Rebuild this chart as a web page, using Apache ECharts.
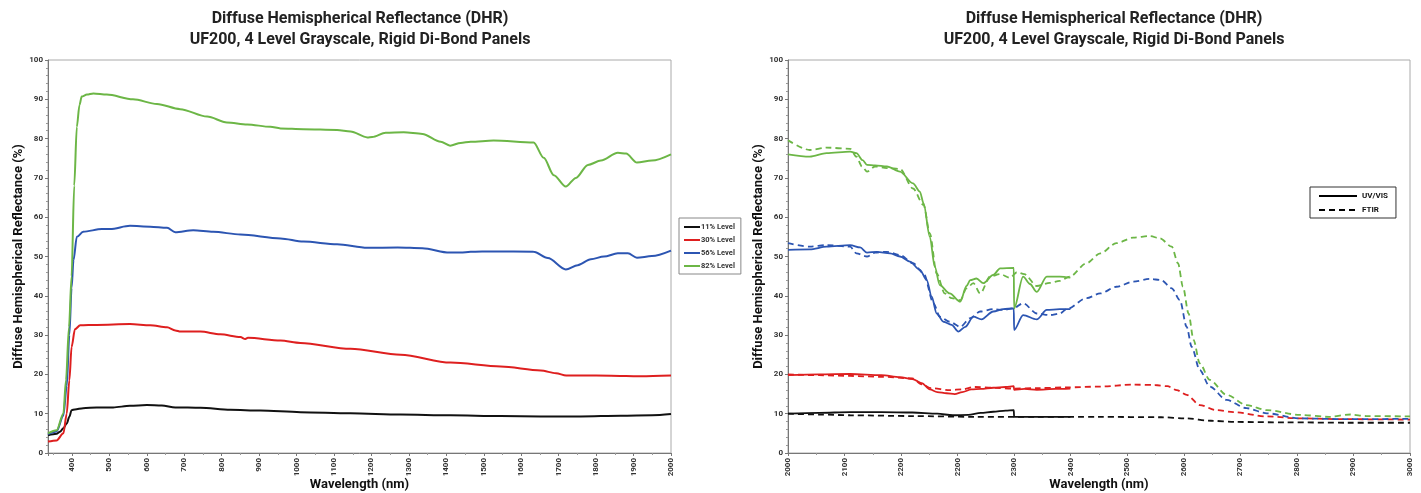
<!DOCTYPE html>
<html><head><meta charset="utf-8">
<script src="https://cdn.jsdelivr.net/npm/echarts@6/dist/echarts.min.js"></script>
<style>html,body{margin:0;padding:0;background:#fff}#c{width:1421px;height:493px}</style>
</head><body><div id="c"></div>
<script>
// ---------- texts ----------
const TITLE_LINES = ['Diffuse Hemispherical Reflectance (DHR)', 'UF200, 4 Level Grayscale, Rigid Di-Bond Panels'];
const Y_NAME = 'Diffuse Hemispherical Reflectance (%)';
const X_NAME = 'Wavelength (nm)';
const LEFT_NAMES = ['11% Level', '30% Level', '56% Level', '82% Level'];
const RIGHT_LEGEND = ['UV/VIS', 'FTIR'];
const RIGHT_X_TICKS = ['2000','2100','2200','2200','2300','2400','2500','2600','2700','2800','2900','3000'];

// ---------- left chart data: [wavelength nm, reflectance %] ----------
const lvl11 = [[336,4.5],[359,4.9],[368,5.4],[377,6.3],[386,7.5],[393,9.2],[399,10.9],[408,11.1],[430,11.4],[466,11.6],[510,11.6],[555,12.0],[600,12.2],[640,12.1],[676,11.6],[743,11.5],[823,11.0],[903,10.8],[1010,10.4],[1144,10.1],[1278,9.8],[1411,9.6],[1545,9.4],[1652,9.3],[1759,9.3],[1866,9.5],[1950,9.6],[2000,9.9]];
const lvl30 = [[336,2.9],[359,3.2],[377,5.0],[386,10.0],[393,18.5],[399,27.0],[408,31.5],[422,32.5],[466,32.6],[555,32.8],[609,32.5],[654,32.0],[676,31.2],[690,30.9],[743,30.9],[796,30.2],[850,29.5],[863,29.0],[870,29.3],[957,28.6],[1010,28.0],[1144,26.5],[1278,25.0],[1411,23.0],[1545,22.0],[1652,21.0],[1693,20.3],[1720,19.7],[1800,19.7],[1880,19.6],[1920,19.5],[2000,19.7]];
const lvl56 = [[336,4.8],[359,5.5],[377,9.5],[386,17.0],[393,30.0],[399,42.0],[404,49.0],[413,55.0],[430,56.3],[480,57.0],[502,57.0],[555,57.8],[609,57.6],[654,57.3],[676,56.2],[724,56.7],[777,56.3],[850,55.6],[957,54.6],[1018,53.8],[1108,53.1],[1189,52.2],[1270,52.3],[1336,52.1],[1408,51.0],[1438,51.0],[1465,51.2],[1526,51.3],[1633,51.2],[1671,49.6],[1719,46.7],[1751,47.8],[1786,49.3],[1821,50.0],[1858,50.8],[1885,50.8],[1909,49.7],[1949,50.1],[2000,51.5]];
const lvl82 = [[336,5.0],[359,5.8],[377,10.0],[384,18.5],[392,32.0],[399,45.0],[406,68.0],[413,83.0],[420,88.5],[426,90.7],[440,91.2],[457,91.5],[493,91.2],[563,90.0],[627,88.8],[689,87.5],[761,85.6],[814,84.1],[868,83.6],[930,83.0],[957,82.6],[1018,82.4],[1108,82.2],[1144,81.8],[1189,80.3],[1202,80.4],[1238,81.5],[1286,81.6],[1336,81.2],[1385,79.2],[1410,78.2],[1438,78.9],[1465,79.2],[1526,79.5],[1633,79.0],[1660,75.1],[1687,70.7],[1719,67.8],[1746,70.0],[1778,73.3],[1813,74.4],[1858,76.4],[1880,76.2],[1909,73.9],[1949,74.4],[2000,76.0]];

// ---------- right chart data: [axis position, reflectance %] ----------
const uv11 = [[2000,10.0],[2050,10.2],[2100,10.4],[2150,10.4],[2200,10.3],[2240,10.0],[2265,9.6],[2290,9.7],[2310,10.2],[2330,10.5],[2350,10.8],[2363,10.9],[2363.5,9.2],[2400,9.2],[2454,9.2]];
const ft11 = [[2000,10.0],[2050,9.8],[2100,9.6],[2200,9.4],[2300,9.2],[2400,9.2],[2500,9.2],[2600,9.1],[2640,8.8],[2680,8.2],[2720,7.9],[2800,7.8],[2900,7.7],[3000,7.7]];
const uv30 = [[2000,19.8],[2050,20.0],[2100,20.1],[2150,19.8],[2180,19.3],[2200,18.8],[2215,17.8],[2228,16.2],[2240,15.5],[2255,15.2],[2268,15.0],[2280,15.5],[2295,16.2],[2310,16.3],[2330,16.6],[2350,16.8],[2363,17.0],[2363.5,16.1],[2380,16.3],[2400,16.1],[2430,16.3],[2454,16.4]];
const ft30 = [[2000,20.0],[2050,19.8],[2100,19.6],[2150,19.4],[2200,19.0],[2215,17.5],[2230,16.5],[2260,16.0],[2280,16.2],[2300,16.8],[2330,16.6],[2363,16.4],[2400,16.5],[2448,16.7],[2502,16.9],[2555,17.4],[2590,17.3],[2610,17.0],[2625,16.0],[2641,14.8],[2662,12.2],[2689,10.9],[2716,10.4],[2770,9.3],[2823,8.8],[2900,8.6],[3000,8.5]];
const uv56 = [[2000,51.7],[2035,51.8],[2062,52.5],[2100,52.9],[2116,52.3],[2127,51.0],[2143,51.2],[2164,50.8],[2180,50.0],[2196,48.7],[2212,46.6],[2223,44.0],[2231,39.8],[2239,35.5],[2250,33.4],[2263,32.6],[2274,30.9],[2285,32.1],[2298,34.7],[2311,34.0],[2330,36.0],[2346,36.6],[2363,36.8],[2363.5,31.3],[2378,35.1],[2400,34.0],[2416,36.4],[2437,36.6],[2454,36.6]];
const ft56 = [[2000,53.4],[2035,52.5],[2062,52.9],[2100,52.5],[2110,50.8],[2127,50.0],[2140,51.0],[2159,51.2],[2180,50.4],[2201,48.3],[2218,45.7],[2234,38.1],[2244,34.7],[2260,33.4],[2277,32.1],[2293,34.3],[2309,36.0],[2330,36.6],[2346,36.4],[2362,36.8],[2378,38.1],[2400,35.5],[2421,35.1],[2437,35.5],[2448,36.6],[2480,39.4],[2502,40.6],[2528,42.3],[2555,43.6],[2582,44.3],[2600,44.0],[2617,41.9],[2630,38.9],[2641,32.1],[2649,27.0],[2662,21.1],[2678,16.9],[2705,13.5],[2737,11.4],[2770,10.1],[2823,8.8],[2900,8.6],[3000,8.7]];
const uv82 = [[2000,76.0],[2035,75.4],[2062,76.3],[2100,76.7],[2110,76.3],[2120,74.5],[2127,73.3],[2140,73.2],[2159,72.9],[2180,71.6],[2201,68.6],[2212,66.5],[2218,63.5],[2228,55.0],[2236,47.4],[2244,42.7],[2260,40.6],[2277,38.5],[2287,42.5],[2293,44.0],[2303,44.4],[2314,43.2],[2330,45.3],[2341,47.0],[2363,47.1],[2363.5,36.8],[2378,44.9],[2389,43.0],[2400,41.0],[2416,44.9],[2437,44.9],[2454,44.6]];
const ft82 = [[2000,79.6],[2035,77.1],[2062,77.7],[2100,77.4],[2110,75.4],[2119,72.9],[2127,71.6],[2140,72.9],[2159,72.5],[2180,72.3],[2201,67.3],[2218,63.1],[2228,55.9],[2239,45.7],[2252,40.6],[2263,39.4],[2277,38.9],[2287,41.9],[2298,43.2],[2309,40.6],[2325,44.9],[2341,45.5],[2357,44.6],[2368,46.0],[2380,45.5],[2400,42.5],[2421,43.3],[2437,43.8],[2453,44.9],[2480,48.3],[2502,50.8],[2528,53.4],[2555,54.8],[2582,55.2],[2598,54.6],[2617,52.5],[2627,48.3],[2635,42.3],[2644,35.5],[2652,28.8],[2662,22.8],[2678,18.6],[2705,14.8],[2737,12.2],[2770,10.9],[2823,9.7],[2870,9.2],[2904,9.8],[2930,9.4],[3000,9.3]];

// ---------- styles ----------
const C_BLACK = '#111111', C_RED = '#de1f1f', C_BLUE = '#2c55b2', C_GREEN = '#6cb646';
const FONT = 'Roboto, "Noto Sans", sans-serif';
const chart = echarts.init(document.getElementById('c'));

function yAxisCfg(gi) {
  return {
    type: 'value', gridIndex: gi, min: 0, max: 100, interval: 10,
    name: Y_NAME, nameLocation: 'middle', nameGap: 23, nameMoveOverlap: false,
    nameTextStyle: { fontFamily: FONT, fontSize: 13, fontWeight: 'bold', color: '#111' },
    axisLine: { show: true, lineStyle: { color: '#777', width: 1 } },
    axisTick: { show: true, length: 3, lineStyle: { color: '#777' } },
    minorTick: { show: true, splitNumber: 5, length: 2, lineStyle: { color: '#999' } },
    splitLine: { show: false },
    axisLabel: { fontFamily: FONT, fontSize: 8, fontWeight: 'bold', color: '#333', margin: 5 }
  };
}
const xName = { fontFamily: FONT, fontSize: 13, fontWeight: 'bold', color: '#111' };
const xLabelBase = { fontFamily: FONT, fontSize: 8, fontWeight: 'bold', color: '#333', rotate: 90, margin: 5 };

function line(name, data, color, xi, dashed, width) {
  return {
    type: 'line', name: name, data: data, xAxisIndex: xi, yAxisIndex: xi,
    showSymbol: false, symbol: 'none', smooth: 0.3, smoothMonotone: 'x',
    color: color,
    lineStyle: { color: color, width: width, type: dashed ? [6, 4] : 'solid' },
    emphasis: { disabled: true }, z: 3
  };
}

const leftData = [lvl11, lvl30, lvl56, lvl82];
const leftColors = [C_BLACK, C_RED, C_BLUE, C_GREEN];
const series = [];
leftData.forEach((d, i) => series.push(line(LEFT_NAMES[i], d, leftColors[i], 0, false, 2)));
const uvSets = [uv11, uv30, uv56, uv82];
const ftSets = [ft11, ft30, ft56, ft82];
ftSets.forEach((d, i) => series.push(line('FTIR ' + LEFT_NAMES[i], d, leftColors[i], 1, true, 1.8)));
uvSets.forEach((d, i) => series.push(line('UV/VIS ' + LEFT_NAMES[i], d, leftColors[i], 1, false, 1.8)));
series.push(line(RIGHT_LEGEND[0], [], '#000', 1, false, 2));
series.push(line(RIGHT_LEGEND[1], [], '#000', 1, true, 2));

const RIGHT_STEP = 1000 / (RIGHT_X_TICKS.length - 1);

const option = {
  animation: false,
  backgroundColor: '#ffffff',
  graphic: [
    { type: 'text', x: 360, y: 8, style: { text: TITLE_LINES.join('\n'), textAlign: 'center', fontFamily: FONT, fontSize: 16, fontWeight: 'bold', lineHeight: 21, fill: '#222' } },
    { type: 'text', x: 1114, y: 8, style: { text: TITLE_LINES.join('\n'), textAlign: 'center', fontFamily: FONT, fontSize: 16, fontWeight: 'bold', lineHeight: 21, fill: '#222' } }
  ],
  grid: [
    { left: 48, right: 750, top: 60, bottom: 40, outerBoundsMode: 'none', containLabel: false, show: true, borderColor: '#aaa', borderWidth: 1, backgroundColor: 'transparent' },
    { left: 788, right: 11, top: 60, bottom: 40, outerBoundsMode: 'none', containLabel: false, show: true, borderColor: '#aaa', borderWidth: 1, backgroundColor: 'transparent' }
  ],
  xAxis: [
    {
      type: 'value', gridIndex: 0, min: 336, max: 2000, splitNumber: 16,
      name: X_NAME, nameLocation: 'middle', nameGap: 25, nameMoveOverlap: false, nameTextStyle: xName,
      axisLine: { show: true, lineStyle: { color: '#777' } },
      axisTick: { show: true, length: 3, lineStyle: { color: '#777' } },
      minorTick: { show: true, splitNumber: 2, length: 2, lineStyle: { color: '#999' } },
      splitLine: { show: false },
      axisLabel: Object.assign({}, xLabelBase, { showMinLabel: false, formatter: v => (v % 100 === 0 ? String(v) : '') })
    },
    {
      type: 'value', gridIndex: 1, min: 2000, max: 3000, interval: RIGHT_STEP,
      name: X_NAME, nameLocation: 'middle', nameGap: 25, nameMoveOverlap: false, nameTextStyle: xName,
      axisLine: { show: true, lineStyle: { color: '#777' } },
      axisTick: { show: true, length: 3, lineStyle: { color: '#777' } },
      minorTick: { show: true, splitNumber: 2, length: 2, lineStyle: { color: '#999' } },
      splitLine: { show: false },
      axisLabel: Object.assign({}, xLabelBase, { formatter: v => RIGHT_X_TICKS[Math.round((v - 2000) / RIGHT_STEP)] || '' })
    }
  ],
  yAxis: [yAxisCfg(0), yAxisCfg(1)],
  legend: [
    {
      data: LEFT_NAMES, orient: 'vertical', left: 679, top: 218,
      itemWidth: 16, itemHeight: 8, itemGap: 5,
      itemStyle: { opacity: 0, borderWidth: 0 },
      padding: [5, 6, 4, 4], borderColor: '#888', borderWidth: 1, backgroundColor: '#fff',
      textStyle: { fontFamily: FONT, fontSize: 7.5, fontWeight: 'bold', color: '#333', padding: [0, 0, 0, -4] },
      selectedMode: false
    },
    {
      data: RIGHT_LEGEND, orient: 'vertical', left: 1310, top: 187,
      itemWidth: 38, itemHeight: 8, itemGap: 6,
      itemStyle: { opacity: 0, borderWidth: 0 },
      padding: [5, 8, 4, 8], borderColor: '#333', borderWidth: 1, backgroundColor: '#fff',
      textStyle: { fontFamily: FONT, fontSize: 8, fontWeight: 'bold', color: '#111', width: 26, align: 'right' },
      selectedMode: false
    }
  ],
  series: series
};
chart.setOption(option);
</script>
</body></html>
